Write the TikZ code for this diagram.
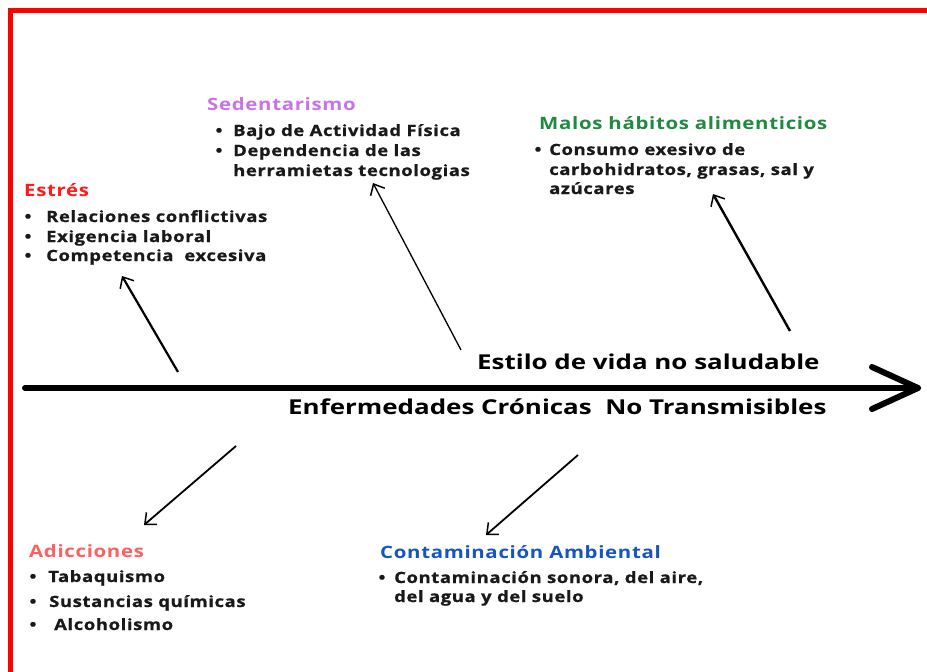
\documentclass[tikz,border=0pt]{standalone}
\usepackage{fontspec}
\setmainfont{Open Sans}
\newfontfamily\hfont[LetterSpace=4,FakeStretch=1.2]{Open Sans}
\newfontfamily\bfont[LetterSpace=4,FakeStretch=1.19,FakeBold=0.8]{Open Sans}
\newfontfamily\mfont[FakeStretch=1.265]{Open Sans}
\usetikzlibrary{arrows.meta}
\definecolor{borderred}{HTML}{FF0000}
\definecolor{cviolet}{HTML}{C873E8}
\definecolor{cgreen}{HTML}{1E8B3E}
\definecolor{cred}{HTML}{FF1A1A}
\definecolor{csalmon}{HTML}{FF5F5F}
\definecolor{cblue}{HTML}{1655BF}
\tikzset{
  head/.style={anchor=west, inner sep=0pt, font=\hfont\bfseries\fontsize{17}{20}\selectfont},
  item/.style={anchor=base west, inner sep=0pt, text=black!90, font=\bfont\bfseries\fontsize{15.5}{19}\selectfont},
  bul/.style={anchor=base, inner sep=0pt, text=black!90, font=\bfont\bfseries\fontsize{15.5}{19}\selectfont},
  mainlbl/.style={anchor=west, inner sep=0pt, font=\mfont\bfseries\fontsize{20.5}{24}\selectfont},
  branch/.style={draw=black, line width=1.5pt, -{Straight Barb[length=9pt, width=16pt, line width=1.5pt]}},
}
\begin{document}
\begin{tikzpicture}[x=1pt, y=-1pt]
\useasboundingbox (0,0) rectangle (927,672);
\fill[white] (0,0) rectangle (927,672);
% red border
\draw[borderred, line width=5pt] (10.5,672) -- (10.5,10.5) -- (927,10.5);

% main axis
\coordinate (axL) at (25,388);
\coordinate (axR) at (918,388);
\coordinate (chT) at (872,367);
\coordinate (chB) at (872,409);
\draw[line width=6pt, line cap=round] (axL) -- (axR);
\draw[line width=6pt, line cap=round, line join=round] (chT) -- (axR) -- (chB);
\node[mainlbl] (estilo) at (477,362) {Estilo de vida no saludable};
\node[mainlbl] (enf) at (288,407) {Enfermedades Crónicas\ \ No Transmisibles};

% Sedentarismo
\node[head, text=cviolet] (sed) at (207,104) {Sedentarismo};
\node[bul] (sb1) at (219,136) {•};
\node[item] (s1) at (233,136) {Bajo de Actividad Física};
\node[bul] (sb2) at (219,156) {•};
\node[item] (s2) at (233,156) {Dependencia de las};
\node[item] (s3) at (233,176) {herramietas tecnologias};

% Malos habitos
\node[head, text=cgreen] (mal) at (539,123) {Malos hábitos alimenticios};
\node[bul] (mb1) at (538,155) {•};
\node[item] (m1) at (549,155) {Consumo exesivo de};
\node[item] (m2) at (549,175) {carbohidratos, grasas, sal y};
\node[item] (m3) at (549,194) {azúcares};

% Estres
\node[head, text=cred] (est) at (24,190) {Estrés};
\node[bul] (eb1) at (28,222) {•};
\node[item] (e1) at (46,222) {Relaciones conflictivas};
\node[bul] (eb2) at (28,242) {•};
\node[item] (e2) at (46,242) {Exigencia laboral};
\node[bul] (eb3) at (28,261) {•};
\node[item] (e3) at (46,261) {Competencia\ \ excesiva};

% Adicciones
\node[head, text=csalmon] (adi) at (29,551) {Adicciones};
\node[bul] (ab1) at (33,582) {•};
\node[item] (a1) at (48,582) {Tabaquismo};
\node[bul] (ab2) at (33,607) {•};
\node[item] (a2) at (49,607) {Sustancias químicas};
\node[bul] (ab3) at (33,630) {•};
\node[item] (a3) at (54,630) {Alcoholismo};

% Contaminacion
\node[head, text=cblue] (con) at (380,552) {Contaminación Ambiental};
\node[bul] (cb1) at (382,583) {•};
\node[item] (c1) at (394,583) {Contaminación sonora, del aire,};
\node[item] (c2) at (394,602) {del agua y del suelo};

% branch arrows
\coordinate (eS) at (178,372); \coordinate (eT) at (122,276);
\coordinate (sS) at (461,350); \coordinate (sT) at (373,183);
\coordinate (mS) at (790,331); \coordinate (mT) at (713,194);
\coordinate (aS) at (236,446); \coordinate (aT) at (144,525);
\coordinate (cS) at (578,455); \coordinate (cT) at (486,535);
\draw[branch, line width=2.2pt] (eS) -- (eT);
\draw[branch, line width=1.3pt] (sS) -- (sT);
\draw[branch, line width=2.4pt] (mS) -- (mT);
\draw[branch, line width=1.8pt] (aS) -- (aT);
\draw[branch, line width=1.8pt] (cS) -- (cT);
\end{tikzpicture}
\end{document}
